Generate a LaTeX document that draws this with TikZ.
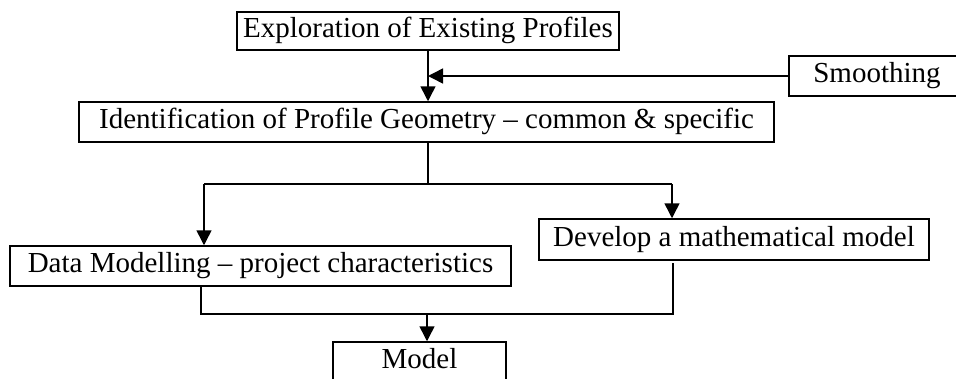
\documentclass[tikz,border=0pt]{standalone}
\usepackage{fontspec}
\setmainfont{Liberation Serif}
\usetikzlibrary{arrows.meta}
\begin{document}
\begin{tikzpicture}[x=1pt,y=-1pt,
  box/.style={draw, line width=1.5pt, inner sep=0pt, font=\fontsize{29}{33}\selectfont, text height=19.5pt, text depth=6pt},
  conn/.style={line width=1.5pt},
  arr/.style={conn, -{Triangle[length=15pt,width=15pt]}}]
\useasboundingbox (0,0) rectangle (956,378);
\clip (0,0) rectangle (956,378);
\node[box, minimum width=382pt, minimum height=38pt] (top) at (428,31) {Exploration of Existing Profiles};
\node[box, minimum width=695pt, minimum height=40pt] (ident) at (426.5,122) {Identification of Profile Geometry -- common \& specific};
\node[box, minimum width=176pt, minimum height=40pt] (smooth) at (877,76) {Smoothing};
\node[box, minimum width=501pt, minimum height=40pt] (dm) at (260.5,266) {Data Modelling -- project characteristics};
\node[box, minimum width=390pt, minimum height=41pt] (dev) at (734,239.5) {Develop a mathematical model};
\node[box, minimum width=173pt, minimum height=40pt] (model) at (419.5,362) {Model};
\coordinate (split) at (428,184);
\coordinate (sl) at (204,184);
\coordinate (sr) at (672,184);
\coordinate (jl) at (201,314);
\coordinate (jr) at (673,314);
\coordinate (jm) at (427,314);
\coordinate (devend) at (673,263);
\draw[arr] (top.south) -- (top.south |- ident.north);
\draw[arr] (smooth.west) -- (428,76);
\draw[conn] (428,142) -- (split);
\draw[conn] (sl) -- (sr);
\draw[arr] (sl) -- (sl |- dm.north);
\draw[arr] (sr) -- (sr |- dev.north);
\draw[conn] (jl |- dm.south) -- (jl) -- (jr) -- (devend);
\draw[arr] (jm) -- (jm |- model.north);
\end{tikzpicture}
\end{document}
